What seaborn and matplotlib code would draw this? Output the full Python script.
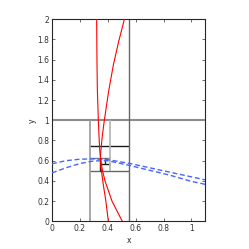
import matplotlib
matplotlib.use('Agg')
import matplotlib.pyplot as plt
import seaborn as sns

# red curves
red1_x = [0.32, 0.322, 0.325, 0.332, 0.337, 0.342, 0.35, 0.362, 0.38, 0.405, 0.43, 0.504]
red1_y = [2.0, 1.6, 1.3, 1.0, 0.84, 0.7, 0.6, 0.5, 0.4, 0.3, 0.2, 0.0]
red2_x = [0.519, 0.478, 0.44, 0.405, 0.375, 0.36, 0.347, 0.349, 0.356, 0.368, 0.385, 0.404]
red2_y = [2.0, 1.78, 1.55, 1.28, 1.0, 0.84, 0.65, 0.55, 0.48, 0.36, 0.21, 0.0]

# blue dashed curves
blue_x = [0, 0.1, 0.2, 0.3, 0.4, 0.55, 0.7, 0.85, 1.0, 1.1]
blue1_y = [0.57, 0.60, 0.615, 0.618, 0.61, 0.575, 0.53, 0.485, 0.44, 0.41]
blue2_y = [0.48, 0.53, 0.572, 0.598, 0.60, 0.555, 0.505, 0.455, 0.395, 0.366]

# cell boundaries: (position, start, end, gray level, width)
hlines = [(1.0, 0.0, 1.1, '0.55', 1.5),
          (0.5, 0.275, 0.55, '0.4', 1.0),
          (0.75, 0.275, 0.55, '0.1', 1.0),
          (0.625, 0.275, 0.4125, '0.5', 1.0),
          (0.5625, 0.34375, 0.4125, '0.1', 1.0)]
vlines = [(0.55, 0.0, 2.0, '0.4', 1.0),
          (0.275, 0.0, 1.0, '0.6', 1.2),
          (0.4125, 0.5, 1.0, '0.7', 1.2),
          (0.34375, 0.5, 0.625, '0.1', 1.0),
          (0.378, 0.5625, 0.625, '0.2', 1.0)]

x_ticks = [0, 0.2, 0.4, 0.6, 0.8, 1]
x_labels = ['0', '0.2', '0.4', '0.6', '0.8', '1']
y_ticks = [0, 0.2, 0.4, 0.6, 0.8, 1, 1.2, 1.4, 1.6, 1.8, 2]
y_labels = ['0', '0.2', '0.4', '0.6', '0.8', '1', '1.2', '1.4', '1.6', '1.8', '2']

sns.set_style('ticks')
plt.rcParams['font.family'] = ['DejaVu Sans']

fig = plt.figure(figsize=(2.49, 2.49), dpi=100)
ax = fig.add_axes([0.209, 0.111, 0.616, 0.812])

for y, x0, x1, c, lw in hlines:
    ax.hlines(y, x0, x1, colors=c, linewidth=lw, zorder=2)
for x, y0, y1, c, lw in vlines:
    ax.vlines(x, y0, y1, colors=c, linewidth=lw, zorder=2)

sns.lineplot(x=blue_x, y=blue1_y, sort=False, color='#4565ff', linewidth=1.0,
             linestyle=(0, (3.5, 2)), ax=ax, zorder=3)
sns.lineplot(x=blue_x, y=blue2_y, sort=False, color='#4565ff', linewidth=1.0,
             linestyle=(0, (3.5, 2)), ax=ax, zorder=3)
sns.lineplot(x=red1_x, y=red1_y, sort=False, color='red', linewidth=0.8, ax=ax, zorder=4)
sns.lineplot(x=red2_x, y=red2_y, sort=False, color='red', linewidth=0.8, ax=ax, zorder=4)

ax.set_xlim(0, 1.1)
ax.set_ylim(0, 2)
ax.set_xticks(x_ticks)
ax.set_xticklabels(x_labels)
ax.set_yticks(y_ticks)
ax.set_yticklabels(y_labels)
ax.tick_params(direction='in', length=2, width=0.5, labelsize=5.5, pad=2,
               top=True, right=True, colors='0.2')
for s in ax.spines.values():
    s.set_linewidth(0.8)
    s.set_color('0.15')
ax.set_xlabel('x', fontsize=5.5, labelpad=2)
ax.set_ylabel('y', fontsize=5.5, labelpad=0)

fig.savefig('out.png', dpi=100)
